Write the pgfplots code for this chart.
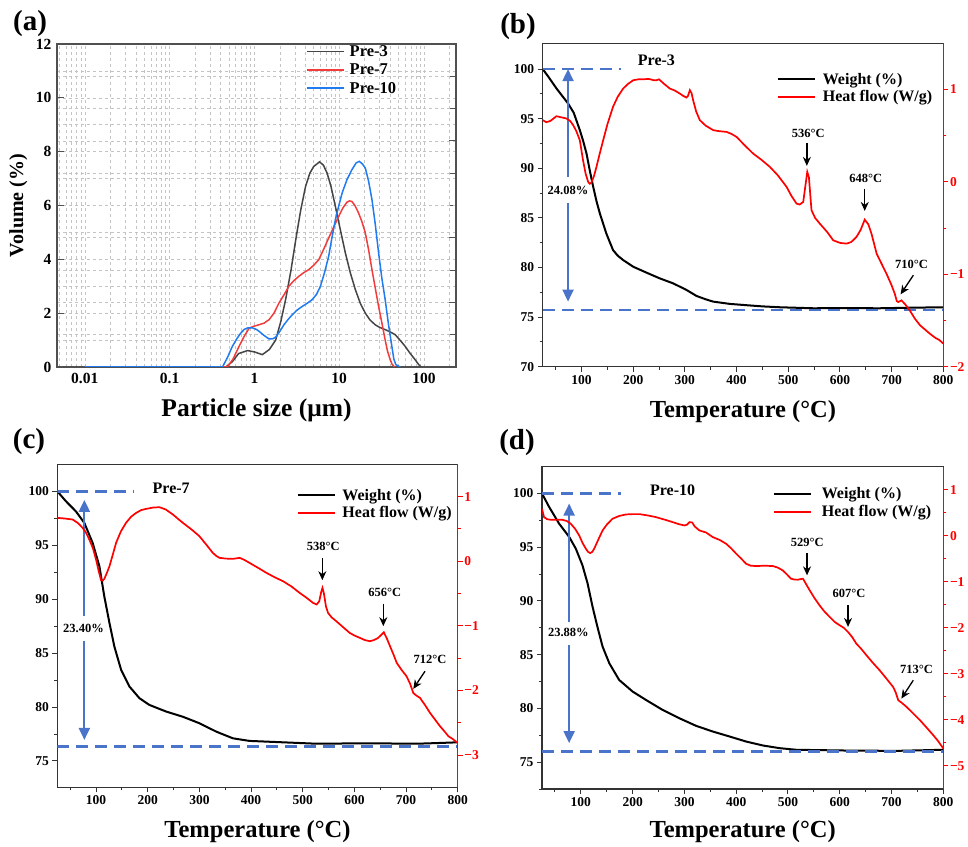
\documentclass[border=0pt]{standalone}
\usepackage{fontspec}
\setmainfont{Liberation Serif}
\usepackage{pgfplots}
\pgfplotsset{compat=1.18}
\usetikzlibrary{arrows.meta}
\definecolor{frame}{HTML}{333333}
\definecolor{frameA}{HTML}{505050}
\definecolor{dblue}{HTML}{4A74C9}
\definecolor{g3}{HTML}{454545}
\definecolor{r7}{HTML}{F23C3C}
\definecolor{b10}{HTML}{1F7BEF}
\definecolor{gridg}{HTML}{C4C4C4}
\newcommand{\fs}[1]{\fontsize{#1}{#1}\selectfont\bfseries}
\tikzset{
 bdash/.style={dblue, line width=2.5pt, dash pattern=on 12pt off 7pt},
 darr/.style={dblue, line width=2pt, -{Triangle[width=11pt,length=12pt]}},
 barr/.style={black, line width=1.3pt, -{Stealth[width=8pt,length=9pt]}},
 ann/.style={font=\fs{12.5}},
}
\pgfplotsset{
 tgbase/.style={scale only axis, anchor=south west, xmin=25, xmax=800,
   /pgf/number format/assume math mode=true, tick align=outside,
   major tick length=5pt, minor tick length=3pt, tick label style={font=\fs{13.5}}},
 tgleft/.style={tgbase, axis line style={frame, line width=1.3pt}, tick style={frame, line width=1pt},
   xtick={100,200,...,800}, minor xtick={50,150,...,750}, xtick pos=bottom, ytick pos=left,
   xlabel={Temperature (°C)}, xlabel style={font=\fs{24.5}, at={(axis description cs:0.5,#1)}, anchor=center}},
 tgright/.style={tgbase, axis x line=none, axis y line*=right, y axis line style={red, line width=1.3pt},
   tick style={red, line width=1pt}, yticklabel style={red, inner sep=1.5pt},
   legend style={draw=none, fill=none, anchor=north west, font=\fs{16}, inner sep=0pt,
     nodes={inner sep=0pt}, row sep=5pt},
   legend cell align=left,
   legend image code/.code={\draw[##1] (0pt,0pt) -- (37pt,0pt);}},
}
\begin{document}
\begin{tikzpicture}
\path[use as bounding box] (0pt,0pt) rectangle (968pt,846pt);
\node[font=\fs{29}] at (30pt,822pt) {(a)};
\node[font=\fs{29}] at (518pt,819.5pt) {(b)};
\node[font=\fs{29}] at (29pt,404pt) {(c)};
\node[font=\fs{29}] at (517pt,403pt) {(d)};

% ---------------- (a) ----------------
\begin{axis}[scale only axis, at={(57pt,479pt)}, anchor=south west, width=399pt, height=323pt,
  xmode=log, xmin=0.0047, xmax=238, ymin=0, ymax=12,
  axis x line=none, axis y line*=right, y axis line style={draw=none},
  ytick={1.2,2.4,3.6,4.8,6,7.2,8.4,9.6,10.8}, yticklabel={\empty}, tick align=inside,
  major tick length=7pt, tick style={frameA, line width=1pt},
  ymajorgrids, grid style={gridg, dashed, line width=0.6pt}]
\end{axis}
\begin{axis}[scale only axis, at={(57pt,479pt)}, anchor=south west, width=399pt, height=323pt,
  xmode=log, xmin=0.0047, xmax=238, ymin=0, ymax=12,
  /pgf/number format/assume math mode=true,
  axis line style={frameA, line width=1.3pt},
  xtick={0.01,0.1,1,10,100}, xticklabels={0.01,0.1,1,10,100},
  minor xtick={0.005,0.006,0.007,0.008,0.009,0.02,0.03,0.04,0.05,0.06,0.07,0.08,0.09,0.2,0.3,0.4,0.5,0.6,0.7,0.8,0.9,2,3,4,5,6,7,8,9,20,30,40,50,60,70,80,90,200},
  ytick={0,2,...,12}, minor ytick={1,3,...,11},
  ytick pos=left, xtick pos=bottom, tick align=inside, major tick length=7pt, minor tick length=0pt,
  x tick style={draw=none}, y tick style={frameA, line width=1pt},
  xmajorgrids, xminorgrids, ymajorgrids, yminorgrids,
  grid style={gridg, dashed, line width=0.6pt}, minor grid style={gridg, dashed, line width=0.6pt},
  tick label style={font=\fs{15.5}}, xticklabel style={yshift=-3pt}, yticklabel style={xshift=-2pt},
  xlabel={Particle size (μm)}, xlabel style={font=\fs{25.5}, at={(axis description cs:0.5,-0.133)}, anchor=center},
  ylabel={Volume (\%)}, ylabel style={font=\fs{20}, at={(axis description cs:-0.097,0.5)}, anchor=center},
  legend style={draw=none, fill=none, at={(axis description cs:0.624,0.997)}, anchor=north west,
    font=\fs{16.5}, inner sep=0pt, nodes={inner sep=0pt}, row sep=5.2pt, column sep=5pt},
  legend cell align=left,
  legend image code/.code={\draw[#1] (0pt,0pt) -- (37pt,0pt);}]
\addplot[g3, line width=1.5pt] coordinates {(0.01,0) (0.3,0) (0.46,0) (0.55,0.2) (0.65,0.5) (0.83,0.61) (1.0,0.56) (1.24,0.46) (1.5,0.65) (1.78,1.0) (2.05,1.7) (2.33,2.5) (2.7,3.6) (3.06,4.7) (3.5,5.8) (4.0,6.7) (4.5,7.2) (5.0,7.45) (5.85,7.62) (6.5,7.5) (7.2,7.2) (8.0,6.7) (9.0,5.97) (10.3,5.1) (11.8,4.24) (13.5,3.5) (15.5,2.87) (17.8,2.35) (20.3,2.0) (23,1.75) (26.5,1.57) (30,1.47) (34.8,1.39) (40,1.3) (45.7,1.2) (52,1.0) (59.8,0.77) (68,0.52) (78.5,0.27) (86,0.1) (92,0)};
\addlegendentry{\strut Pre-3}
\addplot[r7, line width=1.5pt] coordinates {(0.01,0) (0.3,0) (0.48,0) (0.56,0.3) (0.66,0.77) (0.76,1.15) (0.87,1.45) (1.0,1.52) (1.13,1.57) (1.3,1.63) (1.49,1.76) (1.7,2.0) (1.95,2.38) (2.25,2.7) (2.55,3.0) (2.9,3.2) (3.34,3.37) (3.8,3.5) (4.38,3.62) (5.0,3.78) (5.74,3.99) (6.5,4.35) (7.5,4.79) (8.6,5.2) (9.86,5.6) (11.0,5.9) (12.3,6.12) (13.2,6.17) (14.1,6.15) (15.3,6.0) (16.9,5.72) (18.5,5.4) (20.3,4.98) (22.2,4.35) (24.3,3.62) (26.7,2.9) (29.1,2.25) (32,1.6) (34.8,1.0) (37,0.6) (39.9,0.27) (42,0.1) (44.9,0)};
\addlegendentry{\strut Pre-7}
\addplot[b10, line width=1.5pt] coordinates {(0.01,0) (0.3,0) (0.42,0) (0.48,0.35) (0.55,0.77) (0.62,1.05) (0.69,1.26) (0.76,1.4) (0.83,1.45) (0.95,1.45) (1.05,1.4) (1.13,1.33) (1.3,1.17) (1.49,1.04) (1.65,1.05) (1.78,1.11) (2.0,1.33) (2.23,1.57) (2.5,1.77) (2.79,1.94) (3.2,2.12) (3.66,2.25) (4.2,2.37) (4.79,2.5) (5.4,2.7) (6.0,3.0) (6.7,3.5) (7.5,4.11) (8.2,4.8) (9.0,5.47) (9.9,6.0) (10.8,6.46) (12.3,6.95) (14.1,7.33) (15.8,7.58) (17.2,7.64) (18.7,7.55) (20.3,7.39) (22.2,6.9) (24.3,6.22) (26.6,5.3) (29.1,4.24) (31.8,3.3) (34.8,2.5) (38,1.6) (41.7,0.77) (44,0.3) (46.4,0.09) (52.3,0)};
\addlegendentry{\strut Pre-10}
\end{axis}

% ---------------- (b) ----------------
\begin{axis}[tgleft=-0.139, at={(542.7pt,479.3pt)}, width=400.6pt, height=323.4pt,
  ymin=70, ymax=102.6, ytick={70,75,...,100}, minor ytick={72.5,77.5,...,97.5}]
\addplot[black, line width=2pt] coordinates {(25,100) (35,99.3) (51.6,98.05) (74,96.54) (85,95.6) (96.8,93.85) (103,92.8) (109.7,91.5) (116,89.8) (122.6,88.15) (129,86.7) (135.5,85.46) (148,83.44) (161,81.76) (170,81.2) (180.6,80.75) (200,80.08) (225.8,79.48) (251.6,78.9) (277.4,78.4) (303,77.74) (322.6,77.13) (340,76.8) (354.8,76.56) (387,76.33) (419,76.2) (450,76.08) (484,75.99) (548,75.89) (600,75.9) (677,75.89) (740,75.95) (800,75.99)};
\addplot[bdash] coordinates {(25,100) (177,100)};
\addplot[bdash] coordinates {(25,75.72) (800,75.72)};
\draw[darr] (axis cs:74,89.15) -- (axis cs:74,100);
\draw[darr] (axis cs:74,86.47) -- (axis cs:74,76.56);
\node[ann] at (axis cs:74,87.74) {24.08\%};
\node[font=\fs{16}] at (axis cs:245,100.9) {Pre-3};
\end{axis}
\begin{axis}[tgright, at={(542.7pt,479.3pt)}, width=400.6pt, height=323.4pt,
  ymin=-2, ymax=1.5, ytick={-2,-1,0,1}, yticklabels={−2,−1,0,1}, minor ytick={-1.5,-0.5,0.5},
  legend style={at={(axis description cs:0.584,0.909)}, column sep=7pt}]
\addlegendimage{black, line width=2pt}
\addlegendentry{\strut Weight (\%)}
\addplot[red, line width=1.7pt] coordinates {(25,0.668) (32,0.646) (40,0.66) (51.6,0.711) (60,0.70) (71,0.686) (78,0.66) (84,0.614) (90,0.55) (96.8,0.451) (103,0.235) (108,0.09) (112.9,0.0) (116,-0.02) (119,-0.01) (124,0.06) (129,0.162) (135,0.30) (142,0.451) (150,0.62) (161,0.812) (170,0.92) (180.6,1.01) (190,1.06) (200,1.10) (210,1.11) (219,1.11) (230,1.115) (240,1.10) (245,1.10) (250,1.11) (260,1.06) (271,1.01) (280,0.99) (290,0.957) (297,0.93) (303,0.913) (306,0.93) (309.7,0.993) (313,0.96) (316,0.884) (322,0.76) (329,0.668) (340,0.61) (354.8,0.56) (365,0.55) (380.6,0.541) (390,0.52) (400,0.487) (415,0.40) (432,0.307) (448,0.24) (464.5,0.162) (480,0.07) (496.8,-0.054) (506,-0.15) (516,-0.235) (522,-0.245) (529,-0.217) (533,-0.05) (536.8,0.108) (540,0.05) (545,-0.307) (552,-0.39) (561,-0.451) (575,-0.54) (587,-0.632) (600,-0.66) (613,-0.668) (622,-0.65) (632,-0.596) (640,-0.52) (648,-0.408) (655,-0.46) (661,-0.56) (671,-0.776) (680,-0.88) (690,-0.993) (700,-1.12) (706,-1.209) (710,-1.29) (713,-1.30) (719,-1.282) (727,-1.33) (735,-1.39) (745,-1.48) (755,-1.552) (765,-1.6) (774,-1.643) (785,-1.69) (792,-1.71) (800,-1.75)};
\addlegendentry{\strut Heat flow (W/g)}
\node[ann] at (axis cs:538.7,0.53) {536°C};
\draw[barr] (axis cs:536,0.422) -- (axis cs:536,0.173);
\node[ann] at (axis cs:650,0.043) {648°C};
\draw[barr] (axis cs:648,-0.072) -- (axis cs:648,-0.314);
\node[ann] at (axis cs:738.7,-0.895) {710°C};
\draw[barr] (axis cs:742,-1.01) -- (axis cs:717.4,-1.217);
\end{axis}

% ---------------- (c) ----------------
\begin{axis}[tgleft=-0.1375, at={(57.3pt,58.7pt)}, width=400.4pt, height=323pt,
  ymin=72.56, ymax=102.5, ytick={75,80,...,100}, minor ytick={72.5,77.5,...,97.5}]
\addplot[black, line width=2pt] coordinates {(25,100) (41.8,99.07) (61,98.14) (77.4,97.06) (93.5,95.2) (106.5,93.04) (116,90.25) (126,87.78) (135.5,85.6) (148.5,83.45) (164.6,81.9) (184,80.82) (203,80.2) (235.7,79.58) (268,79.1) (300,78.5) (332.7,77.72) (365,77.1) (397,76.86) (462,76.73) (526.6,76.6) (623.6,76.64) (720.6,76.6) (760,76.66) (800,76.73)};
\addplot[bdash] coordinates {(25,100) (174,100)};
\addplot[bdash] coordinates {(25,76.33) (800,76.33)};
\draw[darr] (axis cs:77.4,88.4) -- (axis cs:77.4,99.2);
\draw[darr] (axis cs:77.4,86.08) -- (axis cs:77.4,76.95);
\node[ann] at (axis cs:75.6,87.3) {23.40\%};
\node[font=\fs{16}] at (axis cs:245.4,100.25) {Pre-7};
\end{axis}
\begin{axis}[tgright, at={(57.3pt,58.7pt)}, width=400.4pt, height=323pt,
  ymin=-3.5, ymax=1.5, ytick={-3,-2,-1,0,1}, yticklabels={−3,−2,−1,0,1}, minor ytick={-2.5,-1.5,-0.5,0.5},
  legend style={at={(axis description cs:0.598,0.9245)}, column sep=6.5pt}]
\addlegendimage{black, line width=2pt}
\addlegendentry{\strut Weight (\%)}
\addplot[red, line width=1.7pt] coordinates {(25,0.671) (40,0.66) (54.8,0.645) (65,0.59) (74,0.516) (80,0.45) (87,0.335) (94,0.2) (100,0.026) (105,-0.15) (109.7,-0.294) (113,-0.30) (116,-0.274) (121,-0.18) (126,-0.077) (132,0.09) (138.8,0.284) (148,0.46) (158,0.594) (168,0.69) (177.6,0.748) (187,0.79) (197,0.81) (210,0.83) (222.8,0.836) (235,0.80) (248.7,0.723) (258,0.66) (268,0.594) (285,0.49) (300,0.387) (313,0.26) (326,0.129) (333,0.08) (339,0.052) (352,0.04) (365,0.036) (378,0.052) (387,0.02) (397,-0.026) (413,-0.10) (429.7,-0.18) (446,-0.25) (462,-0.31) (478,-0.39) (494,-0.49) (508,-0.57) (520,-0.645) (527,-0.67) (532,-0.62) (536,-0.47) (538.3,-0.413) (541,-0.50) (545,-0.70) (549,-0.8) (556,-0.87) (565,-0.929) (578,-1.02) (591,-1.11) (600,-1.15) (610.7,-1.187) (620,-1.22) (630,-1.239) (638,-1.22) (646,-1.187) (652,-1.14) (657,-1.1) (663,-1.2) (669,-1.316) (676,-1.45) (682,-1.574) (692,-1.69) (701,-1.781) (708,-1.9) (714,-2.04) (720,-2.08) (727,-2.116) (737,-2.23) (746.4,-2.348) (756,-2.45) (765.8,-2.555) (774,-2.63) (782,-2.71) (790,-2.75) (800,-2.813)};
\addlegendentry{\strut Heat flow (W/g)}
\node[ann] at (axis cs:539.6,0.232) {538°C};
\draw[barr] (axis cs:538,0.052) -- (axis cs:538,-0.294);
\node[ann] at (axis cs:659,-0.48) {656°C};
\draw[barr] (axis cs:656,-0.655) -- (axis cs:656,-1.006);
\node[ann] at (axis cs:746.4,-1.523) {712°C};
\draw[barr] (axis cs:736.7,-1.703) -- (axis cs:714,-1.977);
\end{axis}

% ---------------- (d) ----------------
\begin{axis}[tgleft=-0.1325, at={(542pt,57pt)}, width=401.3pt, height=322.3pt,
  ymin=72.5, ymax=102.5, ytick={75,80,...,100}, minor ytick={72.5,77.5,...,97.5}]
\addplot[black, line width=2pt] coordinates {(25,100) (38.7,98.76) (58,97.2) (77.4,95.97) (90,94.9) (103,93.34) (113,91.64) (122.6,89.47) (132,87.6) (142,85.75) (155,84.2) (174,82.65) (200,81.57) (225.8,80.79) (258,79.86) (290,79.09) (322.6,78.38) (354.8,77.85) (387,77.39) (419,76.92) (451.6,76.55) (484,76.3) (516,76.15) (613,76.08) (709.7,76.05) (800,76.15)};
\addplot[bdash] coordinates {(25,100) (177.4,100)};
\addplot[bdash] coordinates {(25,75.99) (800,75.99)};
\draw[darr] (axis cs:77.4,88.07) -- (axis cs:77.4,99.07);
\draw[darr] (axis cs:77.4,85.9) -- (axis cs:77.4,76.77);
\node[ann] at (axis cs:76,87.05) {23.88\%};
\node[font=\fs{16}] at (axis cs:277.3,100.3) {Pre-10};
\end{axis}
\begin{axis}[tgright, at={(542pt,57pt)}, width=401.3pt, height=322.3pt,
  ymin=-5.5, ymax=1.5, ytick={-5,-4,-3,-2,-1,0,1}, yticklabels={−5,−4,−3,−2,−1,0,1}, minor ytick={-4.5,-3.5,-2.5,-1.5,-0.5,0.5},
  legend style={at={(axis description cs:0.576,0.937)}, column sep=9.5pt, row sep=5.7pt}]
\addlegendimage{black, line width=2pt}
\addlegendentry{\strut Weight (\%)}
\addplot[red, line width=1.7pt] coordinates {(25,0.586) (29,0.405) (35,0.36) (42,0.347) (55,0.35) (64.5,0.347) (73,0.32) (80.6,0.26) (89,0.15) (96.8,0.007) (103,-0.15) (109.7,-0.282) (114,-0.35) (118,-0.376) (122,-0.35) (125.8,-0.282) (133,-0.1) (142,0.116) (150,0.24) (161,0.369) (174,0.43) (187,0.463) (200,0.47) (213,0.47) (230,0.44) (245,0.405) (262,0.35) (277.4,0.296) (290,0.25) (300,0.224) (305,0.24) (309.7,0.296) (315,0.289) (320,0.2) (329,0.116) (342,0.07) (354.8,-0.029) (368,-0.09) (380.6,-0.174) (390,-0.27) (400,-0.39) (410,-0.50) (419,-0.607) (428,-0.65) (438.7,-0.658) (455,-0.65) (471,-0.658) (480,-0.69) (490,-0.752) (498,-0.84) (506,-0.933) (512,-0.95) (519,-0.954) (525,-0.94) (529,-0.933) (535,-1.05) (542,-1.186) (551,-1.35) (561,-1.511) (570,-1.64) (580.6,-1.764) (590,-1.87) (600,-1.945) (608,-2.0) (616,-2.09) (624,-2.2) (632,-2.343) (641,-2.45) (651.6,-2.596) (664,-2.76) (677,-2.921) (690,-3.1) (703,-3.283) (708,-3.4) (713,-3.572) (720,-3.63) (729,-3.717) (742,-3.86) (755,-4.006) (768,-4.17) (780.6,-4.331) (790,-4.46) (800,-4.62)};
\addlegendentry{\strut Heat flow (W/g)}
\node[ann] at (axis cs:537.4,-0.137) {529°C};
\draw[barr] (axis cs:536.8,-0.376) -- (axis cs:536.8,-0.86);
\node[ann] at (axis cs:618,-1.258) {607°C};
\draw[barr] (axis cs:616,-1.511) -- (axis cs:616,-1.98);
\node[ann] at (axis cs:748,-2.907) {713°C};
\draw[barr] (axis cs:742,-3.138) -- (axis cs:719,-3.536);
\end{axis}
\end{tikzpicture}
\end{document}
